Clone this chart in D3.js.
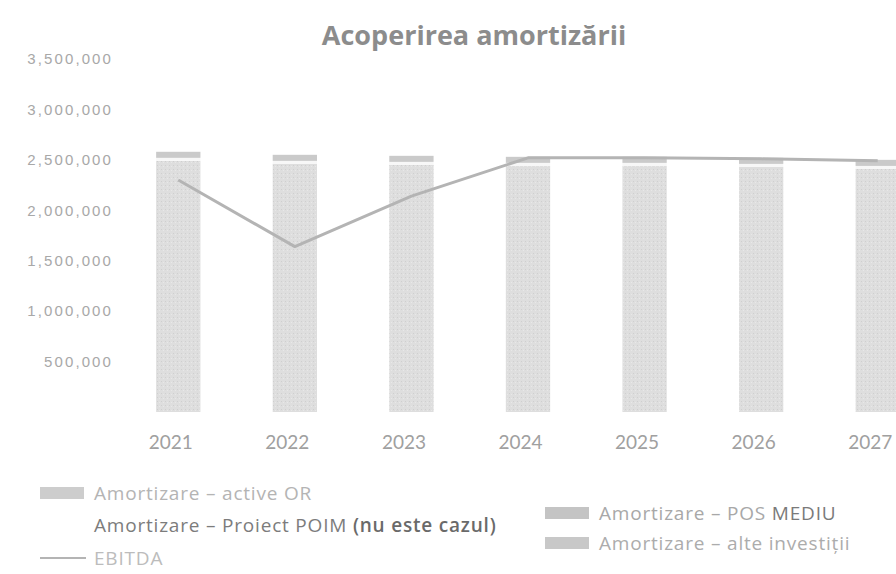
<!DOCTYPE html>
<html>
<head>
<meta charset="utf-8">
<script src="https://cdn.jsdelivr.net/npm/d3@7"></script>
<style>
  body { margin: 0; background: #fff; }
  svg { font-family: "Open Sans", Lato, sans-serif; }
</style>
</head>
<body>
<div id="chart"></div>
<script>
// chart data
const years = ["2021", "2022", "2023", "2024", "2025", "2026", "2027"];
const activeOR = [2490000, 2460000, 2450000, 2440000, 2440000, 2430000, 2410000];
const proiectPOIM = [0, 0, 0, 0, 0, 0, 0];
const posMediu = [30000, 30000, 30000, 30000, 30000, 30000, 30000];
const alteInvestitii = [60000, 60000, 60000, 60000, 60000, 60000, 60000];
const ebitda = [2300000, 1640000, 2140000, 2520000, 2520000, 2510000, 2490000];
const yTicks = [500000, 1000000, 1500000, 2000000, 2500000, 3000000, 3500000];

const seriesColors = ["#dcdcdc", "#ffffff", "#f7f7f7", "#cacaca"];

const width = 896, height = 574;
const svg = d3.select("#chart").append("svg")
    .attr("width", width)
    .attr("height", height);

const defs = svg.append("defs");
// grainy fill like the scanned bars
const pat = defs.append("pattern")
    .attr("id", "grain")
    .attr("width", 4).attr("height", 4)
    .attr("patternUnits", "userSpaceOnUse");
pat.append("rect").attr("width", 4).attr("height", 4).attr("fill", "#dedede");
pat.append("rect").attr("x", 1).attr("y", 1).attr("width", 1).attr("height", 1).attr("fill", "#cfcfcf");
pat.append("rect").attr("x", 3).attr("y", 2).attr("width", 1).attr("height", 1).attr("fill", "#e8e8e8");

const x = d3.scalePoint()
    .domain(years)
    .range([120, 936])
    .padding(0.5);
const barW = x.step() * 0.38;

const y = d3.scaleLinear()
    .domain([0, 3500000])
    .range([412, 59]);

// y axis labels (no line, no ticks)
const fmt = d3.format(",");
const yAxis = svg.append("g")
    .attr("class", "y axis")
    .attr("transform", "translate(113,0)")
    .call(d3.axisLeft(y).tickValues(yTicks).tickFormat(fmt).tickSize(0).tickPadding(0));
yAxis.select(".domain").remove();
yAxis.selectAll("text")
    .attr("fill", "#a8a8a8")
    .style("font-size", "15px")
    .style("letter-spacing", "2.1px");

// title
svg.append("text")
    .attr("x", 474)
    .attr("y", 45)
    .attr("text-anchor", "middle")
    .attr("fill", "#8c8c8c")
    .style("font-size", "27px")
    .style("font-weight", "bold")
    .text("Acoperirea amortizării");

// stacked bars
const rows = years.map((yr, i) => ({
    year: yr, s0: activeOR[i], s1: proiectPOIM[i], s2: posMediu[i], s3: alteInvestitii[i]
}));
const stack = d3.stack().keys(["s0", "s1", "s2", "s3"])(rows);

svg.append("g").selectAll("g")
    .data(stack)
    .enter().append("g")
    .attr("fill", (d, i) => i === 0 ? "url(#grain)" : seriesColors[i])
    .selectAll("rect")
    .data(d => d)
    .enter().append("rect")
    .attr("x", d => x(d.data.year) - barW / 2)
    .attr("y", d => y(d[1]))
    .attr("width", barW)
    .attr("height", d => Math.max(0, y(d[0]) - y(d[1])));

// EBITDA line
const line = d3.line()
    .x((d, i) => x(years[i]))
    .y(d => y(d));
svg.append("path")
    .datum(ebitda)
    .attr("d", line)
    .attr("fill", "none")
    .attr("stroke", "#b4b4b4")
    .attr("stroke-width", 3)
    .attr("stroke-linejoin", "round");

// x axis labels
const xAxis = svg.append("g")
    .attr("class", "x axis")
    .attr("transform", "translate(-8,428)")
    .call(d3.axisBottom(x).tickSize(0).tickPadding(8));
xAxis.select(".domain").remove();
xAxis.selectAll("text")
    .attr("fill", "#a0a0a0")
    .style("font-family", "Lato, sans-serif")
    .style("font-size", "19px");

// legend
const legend = svg.append("g").attr("class", "legend");
const legendItems = [
    { parts: [["Amortizare – active OR", "#b4b4b4", 400]], color: "#cdcdcd", x: 40, y: 493, type: "rect" },
    { parts: [["Amortizare – Proiect POIM ", "#7c7c7c", 400], ["(nu este cazul)", "#6a6a6a", 600]], color: null, x: 40, y: 525, type: "none" },
    { parts: [["Amortizare – POS ", "#a8a8a8", 400], ["MEDIU", "#7a7a7a", 400]], color: "#c4c4c4", x: 545, y: 513, type: "rect" },
    { parts: [["Amortizare – alte investiții", "#acacac", 400]], color: "#c8c8c8", x: 545, y: 543, type: "rect" },
    { parts: [["EBITDA", "#bcbcbc", 400]], color: "#b4b4b4", x: 40, y: 558, type: "line" }
];
legendItems.forEach(d => {
    if (d.type === "rect") {
        legend.append("rect")
            .attr("x", d.x).attr("y", d.y - 6)
            .attr("width", 44).attr("height", 12)
            .attr("fill", d.color);
    } else if (d.type === "line") {
        legend.append("line")
            .attr("x1", d.x).attr("x2", d.x + 46)
            .attr("y1", d.y).attr("y2", d.y)
            .attr("stroke", d.color).attr("stroke-width", 2);
    }
    const t = legend.append("text")
        .attr("x", d.x + 54)
        .attr("y", d.y)
        .attr("dy", ".35em")
        .style("font-size", "19px")
        .style("letter-spacing", "0.8px");
    d.parts.forEach(p => {
        t.append("tspan")
            .attr("fill", p[1])
            .style("font-weight", p[2])
            .text(p[0]);
    });
});
</script>
</body>
</html>
